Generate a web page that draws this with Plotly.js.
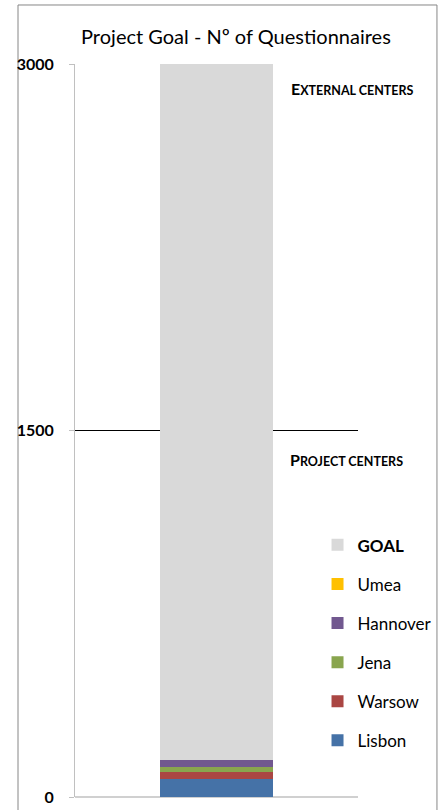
<!DOCTYPE html>
<html>
<head>
<meta charset="utf-8">
<script src="https://cdn.plot.ly/plotly-3.0.1.min.js"></script>
<style>html,body{margin:0;padding:0;background:#fff;}#chart{width:441px;height:810px;}</style>
</head>
<body>
<div id="chart"></div>
<script>
const categories = ['Total'];
const seriesNames = ['Lisbon', 'Warsow', 'Jena', 'Hannover', 'Umea', 'GOAL'];
const lisbon = [72];
const warsow = [30];
const jena = [19];
const hannover = [31];
const umea = [0];
const goal = [2848];
const seriesColors = ['#4572A7', '#AA4643', '#89A54E', '#71588F', '#FFC000', '#D9D9D9'];
const yTicks = [0, 1500, 3000];
const yTickLabels = ['0', '1500', '3000'];

const seriesValues = [lisbon, warsow, jena, hannover, umea, goal];
const traces = seriesNames.map((n, i) => ({
  type: 'bar',
  x: categories,
  y: seriesValues[i],
  name: n === 'GOAL' ? '<b>GOAL</b>' : n,
  legendgroup: n,
  legendrank: seriesNames.length - i,
  marker: {color: seriesColors[i], line: {width: 0}},
  hoverinfo: 'y+name'
}));

const font = 'Lato, "Open Sans", sans-serif';
const layout = {
  width: 441, height: 810,
  margin: {l: 75, r: 83, t: 64, b: 13, autoexpand: false},
  paper_bgcolor: '#fff', plot_bgcolor: '#fff',
  barmode: 'stack',
  bargap: 0.604,
  showlegend: true,
  font: {family: font, color: '#000', size: 15},
  title: {text: 'Project Goal - Nº of Questionnaires', font: {family: font, size: 20, color: '#000'},
          xref: 'container', x: 0.535, xanchor: 'center', yref: 'container', y: 0.954, yanchor: 'middle'},
  legend: {xref: 'container', yref: 'container', x: 0.72, xanchor: 'left', y: 0.349, yanchor: 'top', traceorder: 'grouped',
           tracegroupgap: 14, font: {family: font, size: 17, color: '#000'}, bgcolor: 'rgba(0,0,0,0)',
           itemwidth: 30},
  xaxis: {showticklabels: false, showgrid: false, zeroline: false, showline: false, ticks: '',
          fixedrange: true},
  yaxis: {range: [0, 3000], tickvals: yTicks, ticktext: yTickLabels.map(t => '<b>' + t + '</b>'),
          showgrid: true, gridcolor: '#000', gridwidth: 1.3,
          zeroline: true, zerolinecolor: '#d0d0d0', zerolinewidth: 2,
          showline: true, linecolor: '#c0c0c0', linewidth: 1, ticks: 'outside', ticklen: 5, tickcolor: '#c0c0c0',
          ticklabelstandoff: 12,
          tickfont: {family: font, size: 16, color: '#000'}, fixedrange: true},
  annotations: [
    {xref: 'paper', yref: 'paper', x: 0.979, y: 0.966, xanchor: 'center', yanchor: 'middle', showarrow: false,
     text: '<b>E<span style="font-size:12.5px">XTERNAL CENTERS</span></b>', font: {family: font, size: 16, color: '#000'}},
    {xref: 'paper', yref: 'paper', x: 0.961, y: 0.461, xanchor: 'center', yanchor: 'middle', showarrow: false,
     text: '<b>P<span style="font-size:12.5px">ROJECT CENTERS</span></b>', font: {family: font, size: 16, color: '#000'}}
  ],
  shapes: [
    {type: 'rect', xref: 'paper', yref: 'paper', x0: -0.2014, x1: 1.279, y0: -0.03, y1: 1.0805,
     line: {color: '#868686', width: 1}, fillcolor: 'rgba(0,0,0,0)', layer: 'below'}
  ]
};
Plotly.newPlot('chart', traces, layout, {displayModeBar: false, staticPlot: true});
</script>
</body>
</html>
